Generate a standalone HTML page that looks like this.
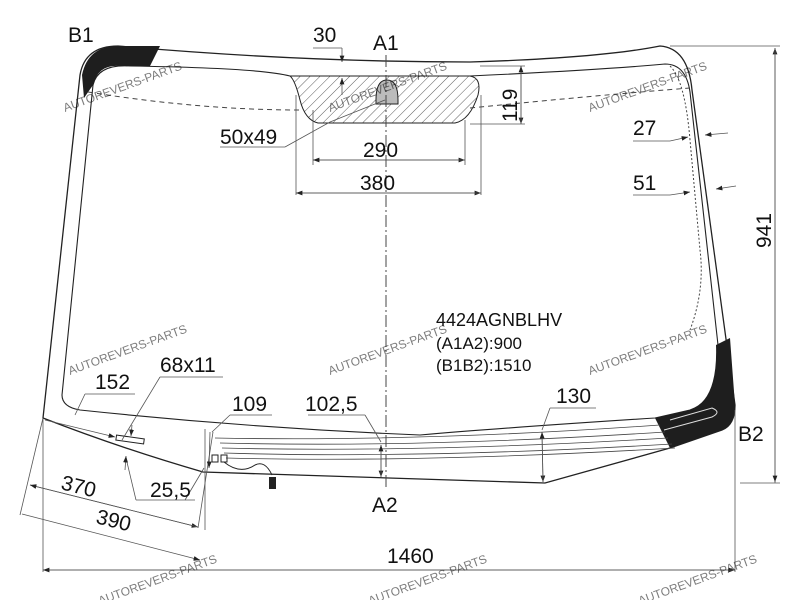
<!DOCTYPE html>
<html><head><meta charset="utf-8"><style>
html,body{margin:0;padding:0;background:#fff;width:800px;height:600px;overflow:hidden}
svg{display:block}
text{font-family:"Liberation Sans",Arial,sans-serif;fill:#111}
.wm{fill:#7ab8e0;font-size:12px;opacity:.55}
</style></head><body>
<svg width="800" height="600" viewBox="0 0 800 600" xmlns="http://www.w3.org/2000/svg">
<defs>
<pattern id="h" width="7" height="7" patternUnits="userSpaceOnUse" patternTransform="rotate(45)">
<line x1="0" y1="0" x2="0" y2="7" stroke="#333" stroke-width="0.8"/></pattern>
<marker id="a" markerWidth="8" markerHeight="6" refX="8" refY="3" orient="auto"><path d="M0,0 L8,3 L0,6z" fill="#222"/></marker>
</defs>
<g fill="none" stroke="#222" stroke-width="1.3">
<path d="M43,418 L80,75 Q85,46 118,46 Q300,62 470,62 Q600,58 660,46 Q688,48 692,90 L735,405 Q735,425 722,430 L670,448 L545,483 Q400,478 203,472 Q120,448 43,418 Z"/>
<path d="M62,395 L93,85 Q98,64 130,66 Q260,68 290,76 L470,76 Q600,70 665,64 Q686,64 690,92 L718,345 Q720,400 690,410 L655,418 Q500,428 420,435 Q250,428 80,410 Q62,407 62,395 Z" stroke-width="1.1"/>
</g>
<path d="M84,98 L93,85 Q98,64 120,66 L150,66 L160,46 L118,46 Q88,46 82,75 Z" fill="#1e1e1e"/>
<path d="M716,345 L730,338 L735,405 Q735,425 722,430 L670,448 L655,418 L690,410 Q718,400 716,345 Z" fill="#1e1e1e"/>
<path d="M664,430 L712,417 Q722,412 712,408 L670,420" fill="none" stroke="#ddd" stroke-width="1"/>
<path d="M290,76 L470,76 Q482,78 478,95 Q470,120 455,123 L318,123 Q305,120 300,100 Q295,80 290,76 Z" fill="url(#h)" stroke="#222" stroke-width="1"/>
<path d="M376,100 Q376,80 387,80 Q398,80 398,100 L398,104 L376,104 Z" fill="#bbb" stroke="#222"/>
<path d="M88,92 Q200,110 300,110 M470,108 Q600,95 690,88" fill="none" stroke="#444" stroke-dasharray="5,4"/>
<path d="M670,66 Q685,80 690,140 L700,250 Q705,290 690,330" fill="none" stroke="#444" stroke-dasharray="2,2"/>
<g stroke="#444" stroke-width="0.8" fill="none">
<path d="M215,438 Q420,442 660,425"/><path d="M220,443 Q420,448 665,432"/><path d="M222,448 Q420,453 668,438"/><path d="M224,453 Q420,459 672,444"/><path d="M226,458 Q420,463 675,448"/>
</g>
<rect x="212" y="455" width="6" height="7" fill="none" stroke="#222"/><rect x="221" y="455" width="6" height="7" fill="none" stroke="#222"/>
<path d="M224,462 Q240,475 255,465 Q265,460 272,475" fill="none" stroke="#222"/>
<rect x="269" y="477" width="7" height="12" fill="#222"/>
<rect x="116" y="437" width="28" height="5" fill="#fff" stroke="#222" transform="rotate(8 130 440)"/>
<line x1="386" y1="55" x2="386" y2="490" stroke="#444" stroke-dasharray="12,3,2,3"/>
<g stroke="#555" stroke-width="0.8" fill="none">
<line x1="313" y1="48" x2="342" y2="48"/><line x1="342" y1="48" x2="342" y2="62" marker-end="url(#a)"/><line x1="342" y1="95" x2="342" y2="78" marker-end="url(#a)"/>
<line x1="313" y1="110" x2="313" y2="165"/><line x1="465" y1="120" x2="465" y2="165"/>
<line x1="313" y1="160" x2="465" y2="160" marker-end="url(#a)"/><line x1="465" y1="160" x2="313" y2="160" marker-end="url(#a)"/>
<line x1="296" y1="95" x2="296" y2="195"/><line x1="481" y1="95" x2="481" y2="195"/>
<line x1="296" y1="193" x2="481" y2="193" marker-end="url(#a)"/><line x1="481" y1="193" x2="296" y2="193" marker-end="url(#a)"/>
<line x1="480" y1="66" x2="525" y2="66"/><line x1="470" y1="124" x2="525" y2="124"/>
<line x1="521" y1="66" x2="521" y2="124" marker-end="url(#a)"/><line x1="521" y1="124" x2="521" y2="66" marker-end="url(#a)"/>
<line x1="220" y1="147" x2="285" y2="147"/><line x1="285" y1="147" x2="330" y2="122"/><line x1="330" y1="122" x2="385" y2="100"/>
<line x1="633" y1="141" x2="670" y2="141"/><line x1="670" y1="141" x2="688" y2="137" marker-end="url(#a)"/><line x1="728" y1="133" x2="705" y2="135" marker-end="url(#a)"/>
<line x1="633" y1="195" x2="670" y2="195"/><line x1="670" y1="195" x2="690" y2="192" marker-end="url(#a)"/><line x1="736" y1="186" x2="716" y2="189" marker-end="url(#a)"/>
<line x1="670" y1="46" x2="780" y2="46"/><line x1="740" y1="483" x2="780" y2="483"/>
<line x1="775" y1="483" x2="775" y2="48" marker-end="url(#a)"/><line x1="775" y1="48" x2="775" y2="482" marker-end="url(#a)"/>
<line x1="43" y1="418" x2="43" y2="572"/><line x1="735" y1="410" x2="735" y2="572"/>
<line x1="43" y1="570" x2="735" y2="570" marker-end="url(#a)"/><line x1="735" y1="570" x2="43" y2="570" marker-end="url(#a)"/>
<line x1="43" y1="418" x2="20" y2="515"/><line x1="213" y1="432" x2="198" y2="528"/><line x1="204" y1="468" x2="185" y2="500"/>
<line x1="30" y1="485" x2="198" y2="527" marker-end="url(#a)"/><line x1="198" y1="527" x2="30" y2="485" marker-end="url(#a)"/>
<line x1="22" y1="514" x2="200" y2="560" marker-end="url(#a)"/>
<line x1="205" y1="429" x2="205" y2="530"/>
<line x1="85" y1="394" x2="135" y2="394"/><line x1="85" y1="394" x2="75" y2="415"/><line x1="45" y1="420" x2="115" y2="437" marker-end="url(#a)"/>
<line x1="160" y1="377" x2="223" y2="377"/><line x1="160" y1="377" x2="122" y2="440"/>
<line x1="136" y1="500" x2="195" y2="500"/><line x1="136" y1="500" x2="126" y2="458"/><line x1="132" y1="425" x2="131" y2="436" marker-end="url(#a)"/><line x1="125" y1="470" x2="126" y2="456" marker-end="url(#a)"/>
<line x1="230" y1="415" x2="272" y2="415"/><line x1="230" y1="415" x2="212" y2="432"/><line x1="210" y1="432" x2="209" y2="468" marker-end="url(#a)"/>
<line x1="308" y1="415" x2="365" y2="415"/><line x1="365" y1="415" x2="381" y2="442"/><line x1="381" y1="445" x2="381" y2="477" marker-end="url(#a)"/><line x1="381" y1="477" x2="381" y2="445" marker-end="url(#a)"/>
<line x1="550" y1="408" x2="596" y2="408"/><line x1="550" y1="408" x2="542" y2="430"/><line x1="542" y1="432" x2="543" y2="482" marker-end="url(#a)"/><line x1="543" y1="482" x2="542" y2="432" marker-end="url(#a)"/>
</g>
<g font-size="21">
<text x="68" y="42">B1</text><text x="313" y="42">30</text><text x="373" y="50">A1</text>
<text x="220" y="144">50x49</text><text x="363" y="157">290</text><text x="360" y="190">380</text>
<text x="633" y="135">27</text><text x="633" y="190">51</text>
<text transform="translate(517,102) rotate(-90)" x="-20" y="0">119</text>
<text transform="translate(771,232) rotate(-90)" x="-16" y="0">941</text>
<text x="95" y="389">152</text><text x="160" y="372">68x11</text><text x="232" y="411">109</text>
<text x="305" y="411">102,5</text><text x="556" y="403">130</text><text x="738" y="441">B2</text>
<text x="372" y="512">A2</text><text x="150" y="497">25,5</text>
<text transform="translate(60,489) rotate(14)">370</text><text transform="translate(95,523) rotate(14)">390</text>
<text x="387" y="563">1460</text>
<text x="436" y="326" font-size="18">4424AGNBLHV</text><text x="436" y="349" font-size="17">(A1A2):900</text><text x="436" y="371" font-size="17">(B1B2):1510</text>
</g>
<g class="wm">
<text transform="translate(65,112) rotate(-20)">AUTOREVERS-PARTS</text>
<text transform="translate(330,112) rotate(-20)">AUTOREVERS-PARTS</text>
<text transform="translate(590,112) rotate(-20)">AUTOREVERS-PARTS</text>
<text transform="translate(70,375) rotate(-20)">AUTOREVERS-PARTS</text>
<text transform="translate(330,375) rotate(-20)">AUTOREVERS-PARTS</text>
<text transform="translate(590,375) rotate(-20)">AUTOREVERS-PARTS</text>
<text transform="translate(100,605) rotate(-20)">AUTOREVERS-PARTS</text>
<text transform="translate(370,605) rotate(-20)">AUTOREVERS-PARTS</text>
<text transform="translate(640,605) rotate(-20)">AUTOREVERS-PARTS</text>
</g>
</svg>
</body></html>
